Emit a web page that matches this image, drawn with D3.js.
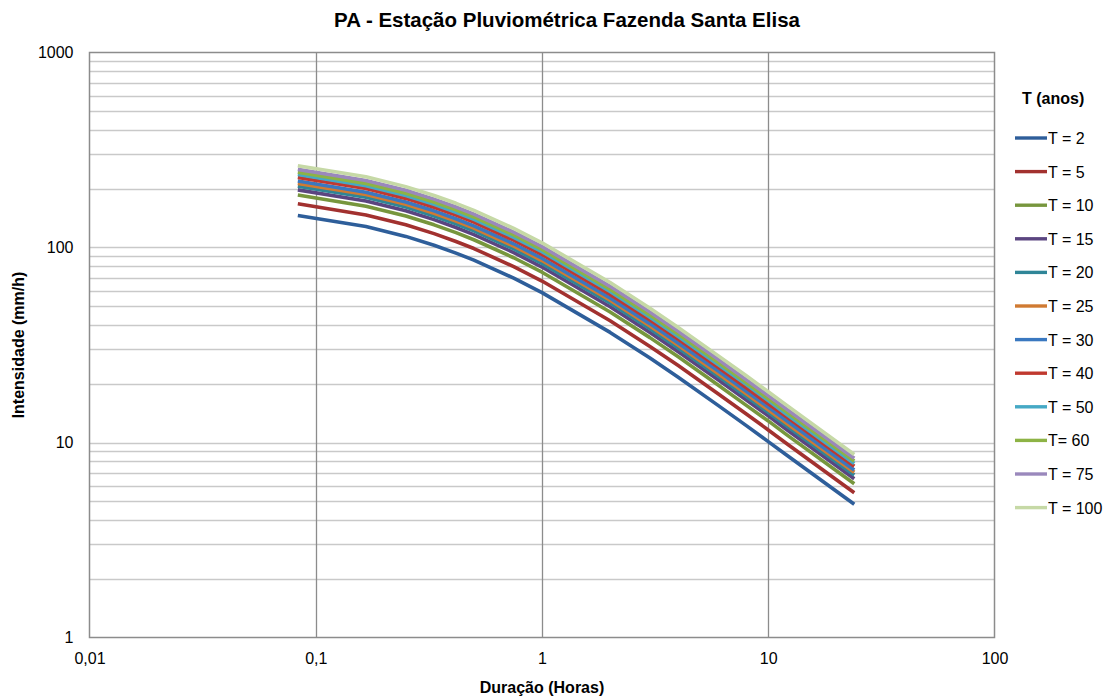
<!DOCTYPE html>
<html><head><meta charset="utf-8">
<script src="https://cdnjs.cloudflare.com/ajax/libs/d3/7.8.5/d3.min.js"></script>
<style>body{margin:0;background:#fff;} text{font-family:"Liberation Sans",Arial,sans-serif;}</style>
</head><body>
<svg id="c" width="1117" height="697"></svg>
<script>
const durationsMin = [5, 10, 15, 20, 25, 30, 45, 60, 120, 180, 240, 360, 480, 600, 720, 1440];
const seriesNames = ["T = 2","T = 5","T = 10","T = 15","T = 20","T = 25","T = 30","T = 40","T = 50","T= 60","T = 75","T = 100"];
const seriesColors = ["#2E5E9A","#A2312F","#77963D","#5B4580","#2F8597","#D07A32","#3A78C0","#C0392F","#46A9C5","#8DB345","#9A88BC","#C6D9A6"];
const t2   = [146.0, 128.0, 114.0, 102.7, 93.6, 86.1, 69.6, 58.7, 36.7, 27.1, 21.6, 15.5, 12.2, 10.1, 8.65, 4.82];
const t5   = [167.5, 146.8, 130.8, 117.8, 107.4, 98.8, 79.8, 67.3, 42.1, 31.1, 24.8, 17.8, 14.0, 11.6, 9.92, 5.53];
const t10  = [185.9, 162.9, 145.1, 130.7, 119.2, 109.6, 88.6, 74.7, 46.7, 34.5, 27.5, 19.7, 15.5, 12.9, 11.0, 6.14];
const t15  = [197.5, 173.2, 154.2, 139.0, 126.6, 116.5, 94.2, 79.4, 49.7, 36.7, 29.2, 21.0, 16.5, 13.7, 11.7, 6.52];
const t20  = [206.3, 180.9, 161.1, 145.1, 132.3, 121.7, 98.3, 82.9, 51.9, 38.3, 30.5, 21.9, 17.2, 14.3, 12.2, 6.81];
const t25  = [213.2, 186.9, 166.4, 149.9, 136.7, 125.7, 101.6, 85.7, 53.6, 39.6, 31.5, 22.6, 17.8, 14.7, 12.6, 7.04];
const t30  = [219.1, 192.1, 171.1, 154.2, 140.5, 129.2, 104.5, 88.1, 55.1, 40.7, 32.4, 23.3, 18.3, 15.2, 13.0, 7.23];
const t40  = [228.8, 200.6, 178.6, 160.9, 146.7, 134.9, 109.1, 92.0, 57.5, 42.5, 33.8, 24.3, 19.1, 15.8, 13.6, 7.55];
const t50  = [236.7, 207.5, 184.8, 166.5, 151.7, 139.6, 112.8, 95.2, 59.5, 43.9, 35.0, 25.1, 19.8, 16.4, 14.0, 7.81];
const t60  = [243.2, 213.2, 189.9, 171.1, 155.9, 143.4, 116.0, 97.8, 61.1, 45.1, 36.0, 25.8, 20.3, 16.8, 14.4, 8.03];
const t75  = [251.6, 220.5, 196.4, 177.0, 161.3, 148.4, 119.9, 101.1, 63.2, 46.7, 37.2, 26.7, 21.0, 17.4, 14.9, 8.30];
const t100 = [262.8, 230.4, 205.2, 184.9, 168.5, 155.0, 125.3, 105.7, 66.1, 48.8, 38.9, 27.9, 22.0, 18.2, 15.6, 8.68];
const seriesValues = [t2,t5,t10,t15,t20,t25,t30,t40,t50,t60,t75,t100];
const xTicks = [0.01, 0.1, 1, 10, 100];
const xTickLabels = ["0,01","0,1","1","10","100"];
const yTicks = [1, 10, 100, 1000];

const durations = durationsMin.map(m => m / 60);
const svg = d3.select("#c");
const L = 89.5, R = 994.5, T = 52.5, B = 637.5;
const x = d3.scaleLog().domain([0.01, 100]).range([L, R]);
const y = d3.scaleLog().domain([1, 1000]).range([B, T]);

// minor horizontal grid
const minorY = [];
for (let d = 1; d < 1000; d *= 10) for (let k = 1; k <= 9; k++) { const v = d*k; if (v > 1 && v < 1000) minorY.push(v); }
svg.append("g").selectAll("line").data(minorY).join("line")
  .attr("x1", L).attr("x2", R).attr("y1", d => Math.round(y(d))+0.5).attr("y2", d => Math.round(y(d))+0.5)
  .attr("stroke", "#c9c9c9").attr("stroke-width", 1.5);
// major vertical grid
svg.append("g").selectAll("line").data(xTicks.slice(1, -1)).join("line")
  .attr("x1", d => Math.round(x(d))+0.5).attr("x2", d => Math.round(x(d))+0.5).attr("y1", T).attr("y2", B)
  .attr("stroke", "#8c8c8c").attr("stroke-width", 1.3);
// frame
svg.append("rect").attr("x", L).attr("y", T).attr("width", R-L).attr("height", B-T)
  .attr("fill", "none").attr("stroke", "#8c8c8c").attr("stroke-width", 1.5);

// axes labels
const xAxis = d3.axisBottom(x).tickValues(xTicks).tickFormat((d,i) => xTickLabels[i]).tickSize(0).tickPadding(15);
const gx = svg.append("g").attr("transform", `translate(0,${B})`).call(xAxis);
gx.select(".domain").remove();
gx.selectAll("text").attr("font-size", 16).attr("fill", "#000").style("font-family", "Liberation Sans, Arial, sans-serif");
const yAxis = d3.axisLeft(y).tickValues(yTicks).tickFormat(d3.format("d")).tickSize(0).tickPadding(16);
const gy = svg.append("g").attr("transform", `translate(${L},0)`).call(yAxis);
gy.select(".domain").remove();
gy.selectAll("text").attr("font-size", 16).attr("fill", "#000").style("font-family", "Liberation Sans, Arial, sans-serif");

// lines
const line = d3.line().x((d,i) => x(durations[i])).y(d => y(d));
svg.append("g").selectAll("path").data(seriesValues).join("path")
  .attr("d", d => line(d)).attr("fill", "none")
  .attr("stroke", (d,i) => seriesColors[i]).attr("stroke-width", 3.6).attr("stroke-linejoin", "round");

// titles
svg.append("text").attr("x", 567).attr("y", 27).attr("text-anchor", "middle")
  .attr("font-size", 20.5).attr("font-weight", "bold").text("PA - Estação Pluviométrica Fazenda Santa Elisa");
svg.append("text").attr("x", 542).attr("y", 693).attr("text-anchor", "middle")
  .attr("font-size", 16).attr("font-weight", "bold").text("Duração (Horas)");
svg.append("text").attr("transform", "translate(24,345) rotate(-90)").attr("text-anchor", "middle")
  .attr("font-size", 16).attr("font-weight", "bold").text("Intensidade (mm/h)");

// legend
svg.append("text").attr("x", 1022).attr("y", 104).attr("font-size", 16).attr("font-weight", "bold").text("T (anos)");
const lg = svg.append("g").selectAll("g").data(seriesNames).join("g")
  .attr("transform", (d,i) => `translate(1015,${138 + i*33.6})`);
lg.append("line").attr("x1", 0).attr("x2", 32).attr("y1", 0).attr("y2", 0)
  .attr("stroke", (d,i) => seriesColors[i]).attr("stroke-width", 3.4);
lg.append("text").attr("x", 33).attr("y", 6).attr("font-size", 16).text(d => d);
</script>
</body></html>
